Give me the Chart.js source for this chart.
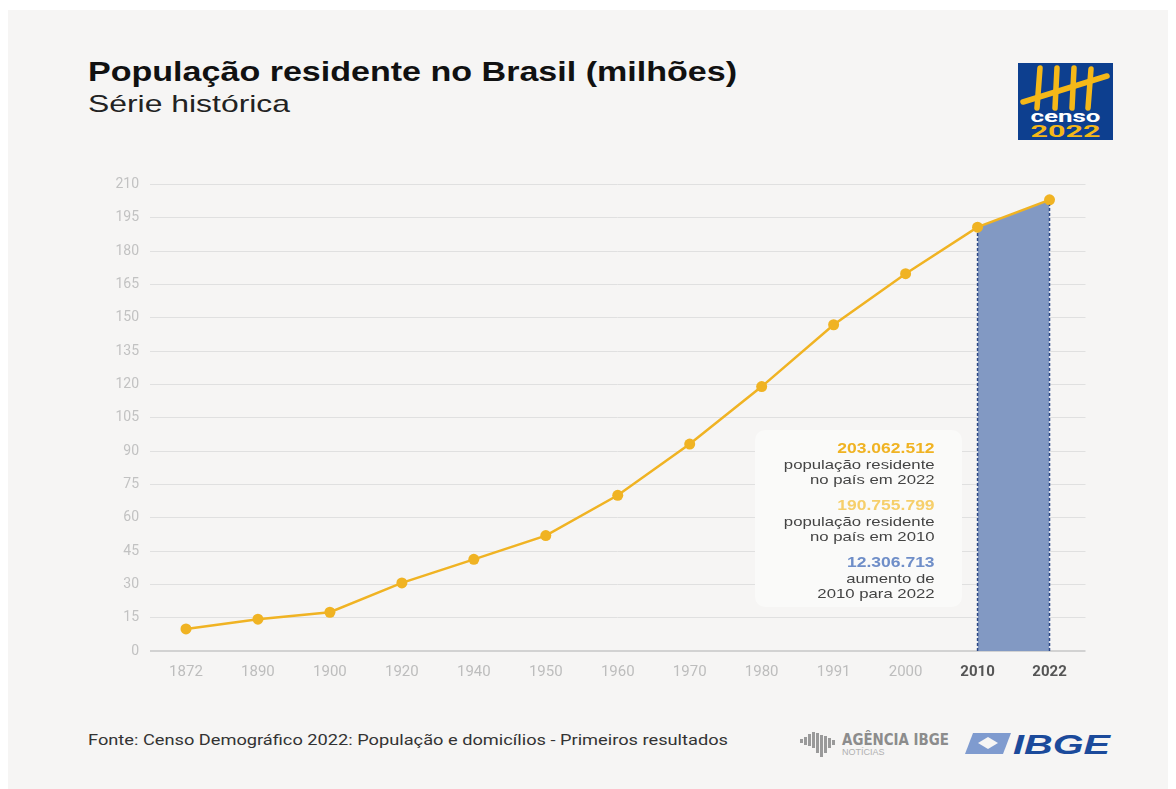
<!DOCTYPE html>
<html>
<head>
<meta charset="utf-8">
<script src="https://cdn.jsdelivr.net/npm/chart.js@4"></script>
<style>
    body { margin: 0; background: #ffffff; width: 1176px; height: 789px; overflow: hidden; font-family: Roboto, 'Liberation Sans', sans-serif; }
    .card { position: absolute; left: 8px; top: 10px; width: 1160px; height: 779px; background: #f6f5f4; }
    .title { position: absolute; left: 88px; top: 56px; font-size: 28px; font-weight: bold; color: #111; font-family: 'Liberation Sans', Arial, sans-serif; white-space: nowrap; transform-origin: left center; }
    .subtitle { position: absolute; left: 88px; top: 90px; font-size: 24px; color: #222; font-family: 'Liberation Sans', Arial, sans-serif; white-space: nowrap; transform-origin: left center; }
    #wrap { position: absolute; left: 90px; top: 165px; width: 1001px; height: 526px; }
    .note { position: absolute; left: 755px; top: 430px; width: 207px; height: 177px;
            background: #fafaf9; border-radius: 10px; }
    .note-in { position: absolute; right: 27px; top: 0; text-align: right; font-family: 'Liberation Sans', Arial, sans-serif;
               transform: scaleX(1.25); transform-origin: right center; white-space: nowrap; }
    .note .v { font-weight: bold; font-size: 14px; margin-top: 9px; line-height: 18px; }
    .note .d { font-size: 13.4px; color: #444; line-height: 15px; }
    .source { position: absolute; left: 88px; top: 732px; font-size: 14px; color: #333; white-space: nowrap; transform-origin: left center; }
    .logo { position: absolute; left: 1018px; top: 63px; }
    .agencia { position: absolute; left: 800px; top: 730px; }
    .ibge { position: absolute; left: 965px; top: 730px; }
</style>
</head>
<body>
<div class="card"></div>
<div class="title" id="title">População residente no Brasil (milhões)</div>
<div class="subtitle" id="subtitle">Série histórica</div>
<svg class="logo" width="95" height="77" viewBox="0 0 95 77">
    <rect width="95" height="77" fill="#0d3f8f"/>
    <g stroke="#f5b818" stroke-width="5.5" stroke-linecap="round">
        <line x1="22" y1="5" x2="19" y2="45"/>
        <line x1="39" y1="5" x2="37" y2="45"/>
        <line x1="56" y1="5" x2="54" y2="45"/>
        <line x1="73" y1="6" x2="70" y2="45"/>
        <line x1="5" y1="39" x2="89" y2="13"/>
    </g>
    <text x="47.5" y="59" text-anchor="middle" fill="#ffffff" font-size="17" font-weight="bold" font-family="Roboto, sans-serif" textLength="70" lengthAdjust="spacingAndGlyphs">censo</text>
    <text x="47.5" y="74" text-anchor="middle" fill="#f5b818" font-size="16" font-weight="bold" font-family="Roboto, sans-serif" textLength="70" lengthAdjust="spacingAndGlyphs">2022</text>
</svg>
<div id="wrap"><canvas id="popChart"></canvas></div>
<div class="note">
    <div class="note-in">
        <div class="v" style="color:#f0b323">203.062.512</div>
        <div class="d">população residente<br>no país em 2022</div>
        <div class="v" style="color:#f6cf6b">190.755.799</div>
        <div class="d">população residente<br>no país em 2010</div>
        <div class="v" style="color:#6f8ec8">12.306.713</div>
        <div class="d">aumento de<br>2010 para 2022</div>
    </div>
</div>
<div class="source" id="source">Fonte: Censo Demográfico 2022: População e domicílios - Primeiros resultados</div>
<svg class="agencia" width="155" height="28" viewBox="0 0 155 28">
    <g fill="#9a9a9a">
        <rect x="0" y="9" width="3" height="4"/><rect x="4" y="7" width="3" height="8"/>
        <rect x="8" y="4" width="3" height="12"/><rect x="12" y="2" width="3" height="16"/>
        <rect x="16" y="3" width="3" height="20"/><rect x="20" y="5" width="3" height="22"/>
        <rect x="24" y="6" width="3" height="17"/><rect x="28" y="8" width="3" height="10"/>
        <rect x="32" y="10" width="3" height="5"/>
    </g>
    <text x="42" y="15" fill="#8c8c8c" font-size="15" font-weight="bold" font-family="'Liberation Sans Narrow', 'DejaVu Sans Condensed', sans-serif" textLength="107" lengthAdjust="spacingAndGlyphs">AGÊNCIA IBGE</text>
    <text x="42" y="25" fill="#b0b0b0" font-size="9" font-family="'Liberation Sans Narrow', sans-serif">NOTÍCIAS</text>
</svg>
<svg class="ibge" width="150" height="28" viewBox="0 0 150 28">
    <polygon points="8,3 46,3 38,24 0,24" fill="#7f9bcf"/>
    <polygon points="23,7 33,13 23,19 13,13" fill="#f6f5f4"/>
    <text x="48" y="24" fill="#1b4a9b" font-size="28" font-weight="bold" font-style="italic" font-family="'Liberation Sans', Arial, sans-serif" textLength="97" lengthAdjust="spacingAndGlyphs">IBGE</text>
</svg>

<script>
// Série histórica da população residente (milhões)
const years = ['1872', '1890', '1900', '1920', '1940', '1950', '1960', '1970', '1980', '1991', '2000', '2010', '2022'];
const population = [9.93, 14.33, 17.44, 30.64, 41.24, 51.94, 70.07, 93.14, 119.0, 146.83, 169.8, 190.76, 203.06];
// area azul entre os dois últimos censos
const highlight = [null, null, null, null, null, null, null, null, null, null, null, 190.76, 203.06];
const highlightYears = ['2010', '2022'];

const lineColor = '#f0b323';

// o original é esticado na horizontal
function stretch(id, target) {
    const el = document.getElementById(id);
    const w = el.getBoundingClientRect().width;
    el.style.transform = 'scaleX(' + (target / w) + ')';
}
stretch('title', 649);
stretch('subtitle', 202);
stretch('source', 640);

// linhas tracejadas verticais nos limites da área destacada
const dashedEdges = {
    id: 'dashedEdges',
    afterDatasetsDraw(chart) {
        const { ctx, scales: { x, y } } = chart;
        ctx.save();
        ctx.strokeStyle = '#2b4786';
        ctx.lineWidth = 1.5;
        ctx.setLineDash([3, 2]);
        highlightYears.forEach(yr => {
            const i = years.indexOf(yr);
            const px = x.getPixelForValue(i);
            ctx.beginPath();
            ctx.moveTo(px, y.getPixelForValue(0));
            ctx.lineTo(px, y.getPixelForValue(highlight[i]) + 5);
            ctx.stroke();
        });
        ctx.restore();
    }
};

const ctx = document.getElementById('popChart').getContext('2d');
new Chart(ctx, {
    type: 'line',
    data: {
        labels: years,
        datasets: [{
            label: 'População',
            data: population,
            borderColor: lineColor,
            backgroundColor: lineColor,
            borderWidth: 2.5,
            pointRadius: 5.5,
            pointBackgroundColor: lineColor,
            pointBorderWidth: 0,
            tension: 0,
            order: 1
        }, {
            label: 'Aumento',
            data: highlight,
            fill: 'origin',
            backgroundColor: '#8299c3',
            borderWidth: 0,
            pointRadius: 0,
            order: 2
        }]
    },
    options: {
        responsive: true,
        maintainAspectRatio: false,
        animation: false,
        layout: { padding: { top: 8, right: 0, left: 0, bottom: 0 } },
        plugins: {
            legend: { display: false },
            tooltip: { enabled: false }
        },
        scales: {
            x: {
                offset: true,
                grid: { display: false },
                border: { display: false },
                afterFit: (s) => { s.height = 40; },
                ticks: {
                    padding: 4,
                    color: (c) => c.index >= 11 ? '#555555' : '#bdbdbd',
                    font: (c) => ({ family: "Roboto, sans-serif", size: 15, weight: c.index >= 11 ? 'bold' : 'normal' })
                }
            },
            y: {
                min: 0,
                max: 210,
                afterFit: (s) => { s.width = 60; },
                border: { display: false },
                grid: {
                    drawTicks: false,
                    color: (c) => c.tick && c.tick.value === 0 ? '#d2d2d2' : '#e0e0e0',
                    lineWidth: (c) => c.tick && c.tick.value === 0 ? 2 : 1
                },
                ticks: {
                    stepSize: 15,
                    padding: 11,
                    color: '#c2c2c2',
                    font: { family: "Roboto, sans-serif", size: 14 }
                }
            }
        }
    },
    plugins: [dashedEdges]
});
</script>
</body>
</html>
